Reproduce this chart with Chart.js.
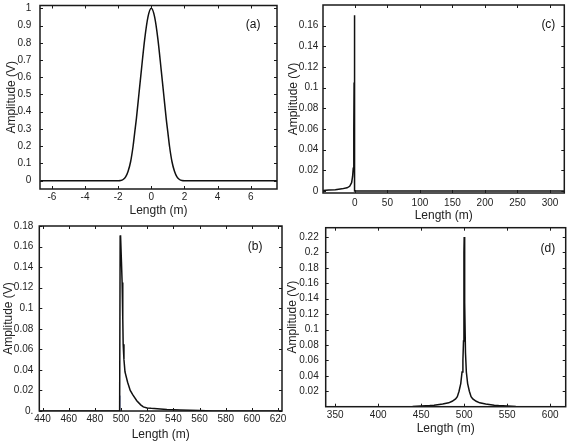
<!DOCTYPE html>
<html>
<head>
<meta charset="utf-8">
<script src="https://cdn.jsdelivr.net/npm/chart.js@4.4.0/dist/chart.umd.min.js"></script>
<style>
  html, body { margin: 0; padding: 0; background: #fff; }
  #wrap { position: relative; width: 573px; height: 442px; overflow: hidden; }
  #wrap canvas { position: absolute; left: 0; top: 0; }
</style>
</head>
<body>
<div id="wrap">
  <canvas id="chartA" width="573" height="442"></canvas>
  <canvas id="chartC" width="573" height="442"></canvas>
  <canvas id="chartB" width="573" height="442"></canvas>
  <canvas id="chartD" width="573" height="442"></canvas>
</div>
<script>
// (a) input pulse
const lengthA = [-6.7, -2.0, -1.85, -1.7, -1.55, -1.4, -1.25, -1.1, -1.0, -0.9, -0.75, -0.6, -0.4, -0.2, 0,
  0.2, 0.4, 0.6, 0.75, 0.9, 1.0, 1.1, 1.25, 1.4, 1.55, 1.7, 1.85, 2.0, 7.6];
const ampA = [0, 0, 0.001, 0.007, 0.022, 0.055, 0.11, 0.2, 0.28, 0.36, 0.5, 0.64, 0.82, 0.95, 1,
  0.95, 0.82, 0.64, 0.5, 0.36, 0.28, 0.2, 0.11, 0.055, 0.022, 0.007, 0.001, 0, 0];
const ticksXA = [-6, -4, -2, 0, 2, 4, 6];
const ticksYA = [0, 0.1, 0.2, 0.3, 0.4, 0.5, 0.6, 0.7, 0.8, 0.9, 1];

// (b) pulse at 500 m
const lengthB = [437.5, 498.9, 499.3, 499.6, 500.3, 500.8, 501.3, 501.6, 502.2, 503, 505, 507, 509, 512,
  515, 517, 520, 523, 530, 535, 545, 560, 570, 623];
const ampB = [0, 0, 0.17, 0.171, 0.145, 0.125, 0.09, 0.065, 0.05, 0.038, 0.028, 0.02, 0.0156, 0.01,
  0.006, 0.004, 0.003, 0.0026, 0.002, 0.0015, 0.001, 0.0005, 0, 0];
const edgeLengthB = [499.1, 499.1];
const edgeAmpB = [0, 0.015];
const ticksXB = [440, 460, 480, 500, 520, 540, 560, 580, 600, 620];
const ticksYB = [0, 0.02, 0.04, 0.06, 0.08, 0.1, 0.12, 0.14, 0.16, 0.18];

// (c) pulse near 0 m
const lengthC = [-49, -40, -30, -20, -12, -8, -5, -3.5, -2.5, -1.8, -1.5, -1.2, -1.0, -0.6, -0.3, 0, 322];
const ampC = [0.0005, 0.0008, 0.0012, 0.002, 0.003, 0.0045, 0.008, 0.014, 0.022, 0.035, 0.06, 0.105,
  0.17, 0.105, 0.057, 0, 0];
const ticksXC = [0, 50, 100, 150, 200, 250, 300];
const ticksYC = [0, 0.02, 0.04, 0.06, 0.08, 0.1, 0.12, 0.14, 0.16];

// (d) symmetric peak at 500 m
const lengthD = [339, 420, 440, 450, 460, 465, 475, 482, 486, 490, 492, 494, 496, 497.5, 498.5, 499.2,
  499.7, 500, 500.3, 500.8, 501.5, 502.5, 504, 506, 508, 510, 514, 518, 525, 535, 540, 550, 560, 580, 618];
const ampD = [0, 0, 0.0003, 0.0008, 0.0015, 0.002, 0.0035, 0.005, 0.007, 0.01, 0.013, 0.02, 0.03, 0.045,
  0.06, 0.085, 0.2, 0.22, 0.2, 0.135, 0.07, 0.045, 0.03, 0.02, 0.013, 0.01, 0.007, 0.005, 0.0035, 0.002,
  0.0015, 0.0008, 0.0003, 0, 0];
const ticksXD = [350, 400, 450, 500, 550, 600];
const ticksYD = [0.02, 0.04, 0.06, 0.08, 0.1, 0.12, 0.14, 0.16, 0.18, 0.2, 0.22];

const W = 573, H = 442;
const TICK_FONT = { family: '"Liberation Sans Narrow", "Arial Narrow", "Liberation Sans", sans-serif', size: 10 };
const TITLE_FONT = { family: '"Liberation Sans", Arial, sans-serif', size: 12 };

const framePlugin = {
  id: 'frame',
  afterDraw(chart, args, opts) {
    const { ctx, chartArea: a, scales: { x, y } } = chart;
    ctx.save();
    ctx.strokeStyle = '#1a1a1a';
    ctx.lineWidth = 1;
    ctx.beginPath();
    x.ticks.forEach(t => {
      const px = Math.round(x.getPixelForValue(t.value)) + 0.5;
      ctx.moveTo(px, a.bottom); ctx.lineTo(px, a.bottom - 3);
      ctx.moveTo(px, a.top); ctx.lineTo(px, a.top + 3);
    });
    y.ticks.forEach(t => {
      const py = Math.round(y.getPixelForValue(t.value)) + 0.5;
      ctx.moveTo(a.left, py); ctx.lineTo(a.left + 3, py);
      ctx.moveTo(a.right, py); ctx.lineTo(a.right - 3, py);
    });
    ctx.stroke();
    ctx.lineWidth = 1.5;
    ctx.strokeRect(a.left, a.top, a.right - a.left, a.bottom - a.top);
    ctx.font = '12px "Liberation Sans", Arial, sans-serif';
    ctx.fillStyle = '#111';
    ctx.textAlign = 'center';
    ctx.textBaseline = 'middle';
    ctx.fillText(opts.letter, a.left + opts.lx * (a.right - a.left), a.top + opts.ly * (a.bottom - a.top));
    ctx.restore();
  }
};

function points(xs, ys) {
  return xs.map((v, i) => ({ x: v, y: ys[i] }));
}

function makePanel(id, p) {
  // box = plot frame in page pixels; titles placed by axis size
  const half = TITLE_FONT.size * 1.2 / 2;
  const padLeft = p.yTitleX - half;
  const yWidth = p.box.l - padLeft;
  const xHeight = p.xTitleY + half - p.box.b;
  new Chart(document.getElementById(id), {
    type: 'line',
    data: { datasets: p.datasets },
    options: {
      responsive: false,
      animation: false,
      layout: { padding: { left: padLeft, top: p.box.t, right: W - p.box.r, bottom: H - p.box.b - xHeight } },
      plugins: { legend: { display: false }, tooltip: { enabled: false }, frame: p.frame },
      elements: { point: { radius: 0 }, line: { borderWidth: 1.5, borderColor: '#111' } },
      scales: {
        x: {
          type: 'linear', min: p.xMin, max: p.xMax,
          grid: { display: false, drawTicks: false }, border: { display: false },
          afterBuildTicks: s => { s.ticks = p.ticksX.map(v => ({ value: v })); },
          afterFit: s => { s.height = xHeight; s.paddingLeft = 0; s.paddingRight = 0; },
          ticks: { font: TICK_FONT, color: '#222', padding: p.xPad, maxRotation: 0, autoSkip: false },
          title: { display: true, text: 'Length (m)', font: TITLE_FONT, color: '#222', padding: 0 }
        },
        y: {
          type: 'linear', min: p.yMin, max: p.yMax,
          grid: { display: false, drawTicks: false }, border: { display: false },
          afterBuildTicks: s => { s.ticks = p.ticksY.map(v => ({ value: v })); },
          afterFit: s => { s.width = yWidth; s.paddingTop = 0; s.paddingBottom = 0; },
          ticks: { font: TICK_FONT, color: '#222', padding: p.yPad, autoSkip: false,
            callback: p.yLabel || (v => String(v)) },
          title: { display: true, text: 'Amplitude (V)', font: TITLE_FONT, color: '#222', padding: 0 }
        }
      }
    },
    plugins: [framePlugin]
  });
}

makePanel('chartA', {
  box: { l: 40, t: 5.5, r: 277, b: 189 }, yTitleX: 12, xTitleY: 210.7, xPad: 2, yPad: 8.7,
  xMin: -6.72, xMax: 7.59, yMin: -0.048, yMax: 1.016, ticksX: ticksXA, ticksY: ticksYA,
  frame: { letter: '(a)', lx: 0.899, ly: 0.106 },
  datasets: [{ data: points(lengthA, ampA), cubicInterpolationMode: 'monotone' }]
});

makePanel('chartC', {
  box: { l: 323, t: 5, r: 564.3, b: 193 }, yTitleX: 294, xTitleY: 215.5, xPad: 4, yPad: 4.7,
  xMin: -49, xMax: 322, yMin: -0.002, yMax: 0.18, ticksX: ticksXC, ticksY: ticksYC,
  frame: { letter: '(c)', lx: 0.934, ly: 0.106 },
  datasets: [{ data: points(lengthC, ampC) }]
});

makePanel('chartB', {
  box: { l: 39.3, t: 226, r: 282, b: 411 }, yTitleX: 9, xTitleY: 435, xPad: 2, yPad: 6,
  xMin: 437.5, xMax: 623, yMin: 0, yMax: 0.18, ticksX: ticksXB, ticksY: ticksYB,
  yLabel: v => (v === 0 ? '0.' : String(v)),
  frame: { letter: '(b)', lx: 0.889, ly: 0.112 },
  datasets: [
    { data: points(lengthB, ampB) },
    { data: points(edgeLengthB, edgeAmpB), borderColor: '#3a4a9a', borderWidth: 1 }
  ]
});

makePanel('chartD', {
  box: { l: 325.7, t: 227.7, r: 565.7, b: 406.7 }, yTitleX: 293, xTitleY: 428.3, xPad: 3, yPad: 7,
  xMin: 339, xMax: 618, yMin: 0, yMax: 0.232, ticksX: ticksXD, ticksY: ticksYD,
  frame: { letter: '(d)', lx: 0.926, ly: 0.119 },
  datasets: [{ data: points(lengthD, ampD) }]
});
</script>
</body>
</html>
